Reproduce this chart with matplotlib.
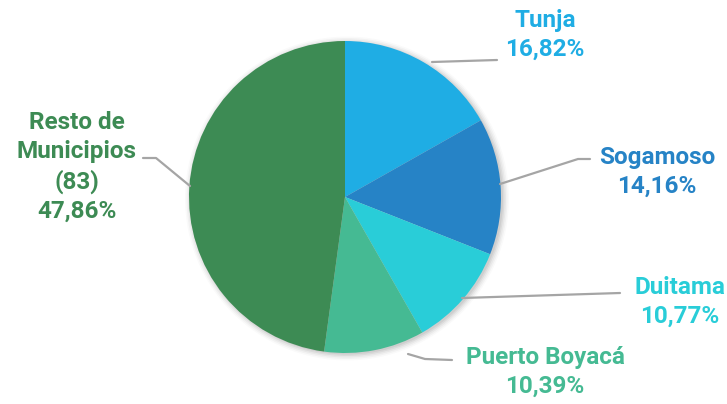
import matplotlib.pyplot as plt
from matplotlib.patches import Circle

# shares of each municipality (%)
municipios = ["Tunja", "Sogamoso", "Duitama", "Puerto Boyacá", "Resto de\nMunicipios\n(83)"]
valores = [16.82, 14.16, 10.77, 10.39, 47.86]
colores = ["#1FADE4", "#2683C6", "#29CDD8", "#45BA93", "#3D8B54"]

fig = plt.figure(figsize=(7.27, 4.04), dpi=100)
ax = fig.add_axes([0, 0, 1, 1])

cx, cy, r = 345, 207, 156

# soft shadow behind the pie
for i, a in enumerate([0.06, 0.05, 0.04, 0.03, 0.02]):
    ax.add_patch(Circle((cx + 2, cy - 1.5), r + i * 1.5, color="#000000",
                        alpha=a, lw=0, zorder=0))

ax.pie(valores, colors=colores, startangle=90, counterclock=False,
       center=(cx, cy), radius=r, frame=True,
       wedgeprops=dict(linewidth=0))
ax.set_xlim(0, 727)
ax.set_ylim(0, 404)
ax.set_aspect("equal")
ax.axis("off")

linea = dict(color="#A5A5A5", lw=1.6, zorder=3, solid_capstyle="round")
# leader lines
ax.plot([432, 497], [404 - 62, 404 - 60], **linea)
ax.plot([500, 578, 590], [404 - 184, 404 - 159, 404 - 159], **linea)
ax.plot([462, 620], [404 - 298, 404 - 293], **linea)
ax.plot([408, 425, 452], [404 - 354, 404 - 359, 404 - 360], **linea)
ax.plot([190, 156, 143], [404 - 186, 404 - 158, 404 - 158], **linea)

etiquetas = [f"{m}\n{v:.2f}%".replace(".", ",") for m, v in zip(municipios, valores)]
posiciones = [(545, 404 - 35), (657, 404 - 172), (680, 404 - 302), (545, 404 - 372), (77, 404 - 167)]

for txt, (x, y), c in zip(etiquetas, posiciones, colores):
    ax.text(x, y, txt, color=c, fontsize=17.5, fontweight="bold", family="Roboto",
            ha="center", va="center", linespacing=1.32)

fig.savefig("out.png", dpi=100)
